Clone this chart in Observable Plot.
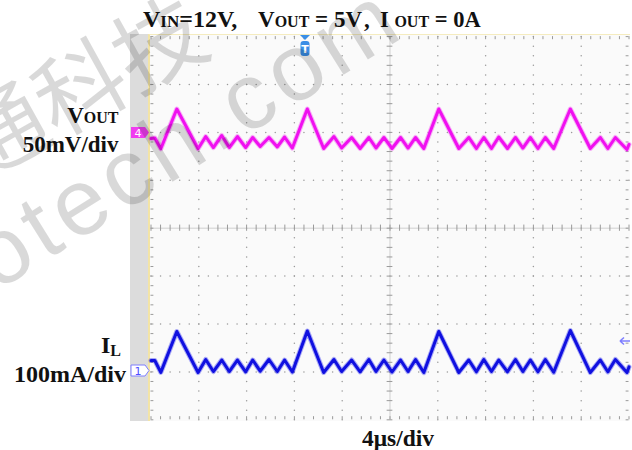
<!DOCTYPE html>
<html><head><meta charset="utf-8">
<script src="https://cdn.jsdelivr.net/npm/d3@7"></script>
<script src="https://cdn.jsdelivr.net/npm/@observablehq/plot@0.6"></script>
<style>
body{margin:0;background:#fff;}
#wrap{position:relative;width:632px;height:450px;overflow:hidden;background:#fff;}
.abs{position:absolute;}
svg text{font-family:"Liberation Serif","Times New Roman",serif;font-weight:bold;fill:#111;}
</style></head>
<body><div id="wrap">
<div class="abs" style="left:130px;top:34px;width:19px;height:387px;background:#dcdcdc"></div>
<div class="abs" style="left:148px;top:34px;width:482px;height:387px;background:#fafafa;border-left:2px solid #f3e4a6;border-top:1px solid #f5ecbf;box-sizing:border-box"></div>
<div id="chart" class="abs" style="left:0;top:0"></div>
<svg class="abs" style="left:0;top:0" width="632" height="450">
  <text x="143" y="27" font-size="24">V<tspan font-size="17">IN</tspan>=12V,</text>
  <text x="258" y="27" font-size="23">V<tspan font-size="16">OUT</tspan> = 5V</text>
  <text x="364" y="27" font-size="23">,</text>
  <text x="380" y="27" font-size="22.5">I <tspan font-size="16">OUT</tspan> = 0A</text>
  <text x="118.5" y="123" font-size="23" text-anchor="end">V<tspan font-size="16">OUT</tspan></text>
  <text x="118.5" y="152" font-size="23" text-anchor="end">50mV/div</text>
  <text x="101" y="353" font-size="24">I<tspan font-size="16" dy="3">L</tspan></text>
  <text x="126" y="382" font-size="24" text-anchor="end">100mA/div</text>
  <text x="362" y="446" font-size="23.5">4μs/div</text>
  <polygon points="131,127 145,127 149,132.5 145,138 131,138" fill="#f03cf0"/>
  <text x="138" y="136.8" font-size="11" style="font-family:'DejaVu Sans',sans-serif;font-weight:normal;fill:#fff" text-anchor="middle">4</text>
  <polygon points="131,365 145,365 149,370.5 145,376 131,376" fill="#fff" stroke="#7f7fff"/>
  <text x="138" y="374.8" font-size="11" style="font-family:'DejaVu Sans',sans-serif;font-weight:normal;fill:#5050ff" text-anchor="middle">1</text>
  <polygon points="300,35 310,35 305,40" fill="#3a8ee6"/>
  <rect x="300.5" y="41" width="9" height="15" rx="3" fill="#3a8ee6"/>
  <text x="305" y="53" font-size="11" style="font-family:'DejaVu Sans',sans-serif;fill:#fff" text-anchor="middle">T</text>
  <path d="M620,341 L630,341 M620,341 l4,-3.5 M620,341 l4,3.5" stroke="#7f7fff" stroke-width="1.6" fill="none"/>
</svg>
<svg class="abs" style="left:0;top:0;pointer-events:none" width="632" height="450">
  <text transform="translate(-22,182) rotate(-29)" font-size="90" style="font-family:'Noto Sans CJK SC',sans-serif;font-weight:normal;fill:rgba(0,0,0,0.15)">通科技</text>
  <text transform="translate(-4,292) rotate(-32)" font-size="94" letter-spacing="6" style="font-family:'Liberation Sans',sans-serif;font-weight:normal;fill:rgba(0,0,0,0.15)">otech.com</text>
</svg>
</div>
<script>
// time (µs) of each waveform vertex, shared by both channels
const times = [0,0.32,0.82,2.16,3.94,4.58,5.22,5.92,6.55,7.23,7.92,8.51,9.14,9.87,10.57,11.18,11.83,13.08,14.45,15.31,15.95,16.79,17.5,18.23,18.83,19.49,20.17,20.88,21.51,22.14,22.83,24.08,25.76,26.59,27.23,27.85,28.49,29.1,29.83,30.5,31.12,31.75,32.38,33.0,33.7,35.09,36.76,37.6,38.23,38.86,39.83,40.0];
// VOUT ripple (mV, relative to channel 4 reference), 50 mV/div
const voutMv = [-6.4,-5.8,-17.1,24.4,-17.1,-4.3,-15.8,-3.2,-15.8,-4.3,-15.8,-5.3,-14.7,-5.3,-15.2,-4.8,-16.3,24.4,-16.8,-4.3,-16.3,-5.3,-16.8,-5.3,-16.3,-5.3,-16.8,-5.3,-16.3,-5.3,-16.8,24.4,-16.8,-5.3,-16.8,-5.3,-16.8,-4.8,-16.8,-5.3,-16.3,-5.3,-16.8,-5.3,-16.8,24.4,-16.8,-5.3,-16.8,-5.3,-17.8,-12.6];
// IL (mA, relative to channel 1 reference), 100 mA/div
const ilMa = [23.8,23.8,-1.0,84.3,-1.3,25.9,0.8,24.8,0.8,24.8,0.2,24.8,1.5,25.9,0.8,24.8,-0.2,85.4,-1.3,25.9,0.8,24.8,0.2,25.9,0.8,24.8,-0.2,24.8,0.8,25.9,-1.3,84.3,-1.3,24.8,0.2,25.9,0.8,24.8,0.2,25.9,0.8,24.8,0.2,25.9,-0.8,86.4,-1.3,24.8,0.2,25.9,-1.3,10.4];
// channel settings
const voutScale = 50, voutRef = 2;   // mV/div, reference level in divisions
const ilScale = 100, ilRef = -3;     // mA/div
const timePerDiv = 4;                // µs/div
const xDivs = 10, yDivs = 8;

const tMax = timePerDiv * xDivs;
const vout = times.map((t, i) => ({t, div: voutRef + voutMv[i] / voutScale}));
const il = times.map((t, i) => ({t, div: ilRef + ilMa[i] / ilScale}));

const minorX = d3.range(0, tMax + 1e-9, timePerDiv / 5);
const minorY = d3.range(-yDivs / 2, yDivs / 2 + 1e-9, 0.2);
const majorX = d3.range(1, xDivs).filter(i => i !== xDivs / 2).map(i => i * timePerDiv);
const majorY = d3.range(-yDivs / 2 + 1, yDivs / 2).filter(i => i !== 0);
const gridDots = [
  ...majorX.flatMap(x => minorY.map(y => ({x, y}))),
  ...majorY.flatMap(y => minorX.map(x => ({x, y})))
];
const tx = timePerDiv * 0.06, ty = 0.065;
const grey = "#9a9a9a";

const chart = Plot.plot({
  width: 632, height: 450,
  marginLeft: 150.5, marginRight: 3.5, marginTop: 36.1, marginBottom: 30.7,
  style: {background: "transparent", overflow: "visible"},
  x: {domain: [0, tMax], axis: null},
  y: {domain: [-yDivs / 2, yDivs / 2], axis: null},
  marks: [
    Plot.dot(gridDots, {x: "x", y: "y", r: 0.75, fill: grey, stroke: null}),
    Plot.ruleY([0], {stroke: "#cfcfcf", strokeWidth: 1}),
    Plot.ruleX([tMax / 2], {stroke: "#cfcfcf", strokeWidth: 1}),
    Plot.ruleX(minorX, {x: d => d, y1: -ty, y2: ty, stroke: grey}),
    Plot.ruleY(minorY, {y: d => d, x1: tMax / 2 - tx, x2: tMax / 2 + tx, stroke: grey}),
    Plot.ruleX(minorX, {x: d => d, y1: -yDivs / 2, y2: -yDivs / 2 + ty, stroke: grey}),
    Plot.ruleX(minorX, {x: d => d, y1: yDivs / 2 - ty, y2: yDivs / 2, stroke: grey}),
    Plot.ruleY(minorY, {y: d => d, x1: 0, x2: tx, stroke: grey}),
    Plot.ruleY(minorY, {y: d => d, x1: tMax - tx, x2: tMax, stroke: grey}),
    Plot.line(vout, {x: "t", y: "div", stroke: "#f040f0", strokeWidth: 5, strokeOpacity: 0.4}),
    Plot.line(vout, {x: "t", y: "div", stroke: "#f010f0", strokeWidth: 3}),
    Plot.line(il, {x: "t", y: "div", stroke: "#3030f0", strokeWidth: 5, strokeOpacity: 0.4}),
    Plot.line(il, {x: "t", y: "div", stroke: "#1010e0", strokeWidth: 3})
  ]
});
document.getElementById("chart").appendChild(chart);
</script>
</body></html>
